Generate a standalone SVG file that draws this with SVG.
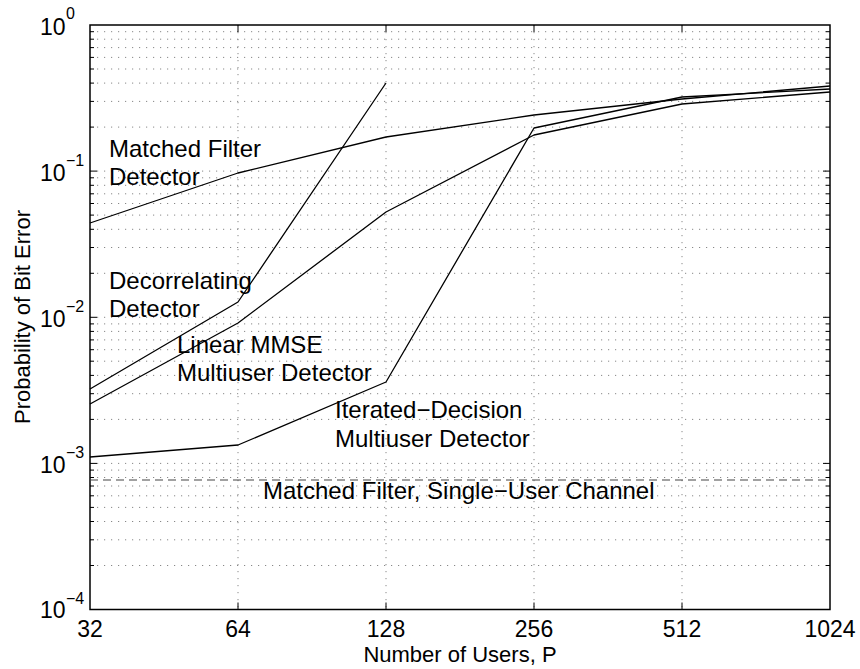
<svg xmlns="http://www.w3.org/2000/svg" width="860" height="669" viewBox="0 0 860 669">
<style>
text{font-family:"Liberation Sans",Arial,sans-serif;fill:#000}
.lbl{font-size:24px}
.tick{font-size:23px}
.exp{font-size:16px}
.axl{font-size:22px}
.grid line{stroke:#888;stroke-width:1;stroke-dasharray:1.2,5.8}
.curve{fill:none;stroke:#000;stroke-width:1.3;stroke-linejoin:round}
</style>
<rect width="860" height="669" fill="#fff"/>
<g id="grid" class="grid">
<line x1="90" y1="31.7" x2="830" y2="31.7"/><line x1="90" y1="39.2" x2="830" y2="39.2"/><line x1="90" y1="47.6" x2="830" y2="47.6"/><line x1="90" y1="57.4" x2="830" y2="57.4"/><line x1="90" y1="69" x2="830" y2="69"/><line x1="90" y1="83.1" x2="830" y2="83.1"/><line x1="90" y1="101.4" x2="830" y2="101.4"/><line x1="90" y1="127.1" x2="830" y2="127.1"/><line x1="90" y1="171.1" x2="830" y2="171.1"/>
<line x1="90" y1="177.8" x2="830" y2="177.8"/><line x1="90" y1="185.3" x2="830" y2="185.3"/><line x1="90" y1="193.8" x2="830" y2="193.8"/><line x1="90" y1="203.5" x2="830" y2="203.5"/><line x1="90" y1="215.1" x2="830" y2="215.1"/><line x1="90" y1="229.3" x2="830" y2="229.3"/><line x1="90" y1="247.5" x2="830" y2="247.5"/><line x1="90" y1="273.3" x2="830" y2="273.3"/><line x1="90" y1="317.3" x2="830" y2="317.3"/>
<line x1="90" y1="323.9" x2="830" y2="323.9"/><line x1="90" y1="331.4" x2="830" y2="331.4"/><line x1="90" y1="339.9" x2="830" y2="339.9"/><line x1="90" y1="349.7" x2="830" y2="349.7"/><line x1="90" y1="361.2" x2="830" y2="361.2"/><line x1="90" y1="375.4" x2="830" y2="375.4"/><line x1="90" y1="393.7" x2="830" y2="393.7"/><line x1="90" y1="419.4" x2="830" y2="419.4"/><line x1="90" y1="463.4" x2="830" y2="463.4"/>
<line x1="90" y1="470.1" x2="830" y2="470.1"/><line x1="90" y1="477.5" x2="830" y2="477.5"/><line x1="90" y1="486" x2="830" y2="486"/><line x1="90" y1="495.8" x2="830" y2="495.8"/><line x1="90" y1="507.4" x2="830" y2="507.4"/><line x1="90" y1="521.5" x2="830" y2="521.5"/><line x1="90" y1="539.8" x2="830" y2="539.8"/><line x1="90" y1="565.5" x2="830" y2="565.5"/>
<line x1="238" y1="25" x2="238" y2="609.5"/><line x1="386" y1="25" x2="386" y2="609.5"/><line x1="534" y1="25" x2="534" y2="609.5"/><line x1="682" y1="25" x2="682" y2="609.5"/>
</g>
<g id="ticks">
<path d="M90 31.7h4M90 39.2h4M90 47.6h4M90 57.4h4M90 69h4M90 83.1h4M90 101.4h4M90 127.1h4M90 171.1h7M90 177.8h4M90 185.3h4M90 193.8h4M90 203.5h4M90 215.1h4M90 229.3h4M90 247.5h4M90 273.3h4M90 317.3h7M90 323.9h4M90 331.4h4M90 339.9h4M90 349.7h4M90 361.2h4M90 375.4h4M90 393.7h4M90 419.4h4M90 463.4h7M90 470.1h4M90 477.5h4M90 486h4M90 495.8h4M90 507.4h4M90 521.5h4M90 539.8h4M90 565.5h4" stroke="#000" fill="none"/>
<path d="M830 31.7h-4M830 39.2h-4M830 47.6h-4M830 57.4h-4M830 69h-4M830 83.1h-4M830 101.4h-4M830 127.1h-4M830 171.1h-7M830 177.8h-4M830 185.3h-4M830 193.8h-4M830 203.5h-4M830 215.1h-4M830 229.3h-4M830 247.5h-4M830 273.3h-4M830 317.3h-7M830 323.9h-4M830 331.4h-4M830 339.9h-4M830 349.7h-4M830 361.2h-4M830 375.4h-4M830 393.7h-4M830 419.4h-4M830 463.4h-7M830 470.1h-4M830 477.5h-4M830 486h-4M830 495.8h-4M830 507.4h-4M830 521.5h-4M830 539.8h-4M830 565.5h-4" stroke="#000" fill="none"/>
<path d="M238 609.5v-7M386 609.5v-7M534 609.5v-7M682 609.5v-7M238 25v7M386 25v7M534 25v7M682 25v7" stroke="#000" fill="none"/>
</g>
<rect id="axes" x="90" y="25" width="740" height="584.5" fill="none" stroke="#000" stroke-width="1.5"/>
<g id="connectors">
<polyline id="mf-curve" class="curve" points="90,223 238,173 386,137 534,115 682,99 830,86"/>
<polyline id="dec-curve" class="curve" points="90,389 238,302 386,83"/>
<polyline id="mmse-curve" class="curve" points="90,404 238,323 386,212 534,135 682,104 830,92"/>
<polyline id="id-curve" class="curve" points="90,457 238,445 386,382 534,128 682,97 830,89"/>
<line id="su-line" x1="90" y1="480" x2="830" y2="480" stroke="#444" stroke-width="1.2" stroke-dasharray="8,5"/>
</g>
<g id="yticks">
<text class="tick" x="40" y="35">10</text><text class="exp" x="66" y="19">0</text>
<text class="tick" x="40" y="181">10</text><text class="exp" x="66" y="166">−1</text>
<text class="tick" x="40" y="327">10</text><text class="exp" x="66" y="312">−2</text>
<text class="tick" x="40" y="473">10</text><text class="exp" x="66" y="458">−3</text>
<text class="tick" x="40" y="618">10</text><text class="exp" x="66" y="604">−4</text>
</g>
<g id="xticks" text-anchor="middle">
<text class="tick" x="90" y="637">32</text>
<text class="tick" x="238" y="637">64</text>
<text class="tick" x="386" y="637">128</text>
<text class="tick" x="534" y="637">256</text>
<text class="tick" x="682" y="637">512</text>
<text class="tick" x="830" y="637">1024</text>
</g>
<g id="label-mf"><text class="lbl" x="109" y="157">Matched Filter</text><text class="lbl" x="109" y="185">Detector</text></g>
<g id="label-dec"><text class="lbl" x="109" y="289">Decorrelating</text><text class="lbl" x="109" y="317">Detector</text></g>
<g id="label-mmse"><text class="lbl" x="177" y="353">Linear MMSE</text><text class="lbl" x="177" y="381">Multiuser Detector</text></g>
<g id="label-id"><text class="lbl" x="335" y="418">Iterated−Decision</text><text class="lbl" x="335" y="447">Multiuser Detector</text></g>
<g id="label-su"><text class="lbl" x="263" y="499">Matched Filter, Single−User Channel</text></g>
<g id="axis-labels">
<text class="axl" x="460" y="662" text-anchor="middle">Number of Users, P</text>
<text class="axl" transform="translate(30,317) rotate(-90)" text-anchor="middle">Probability of Bit Error</text>
</g>
</svg>
